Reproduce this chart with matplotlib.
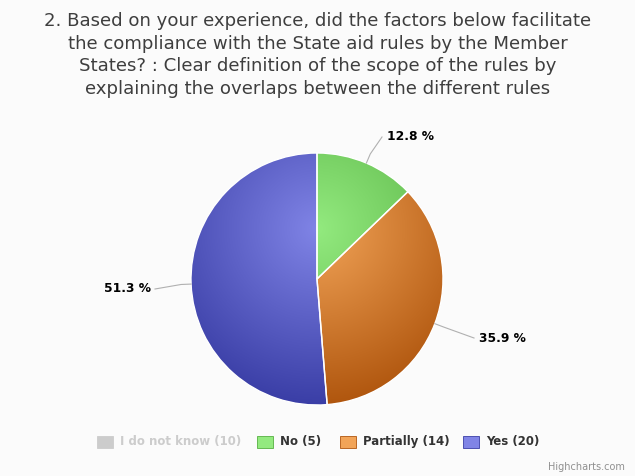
import numpy as np
import matplotlib
matplotlib.use('Agg')
import matplotlib.pyplot as plt
from matplotlib.patches import Rectangle

# data
categories = ['I do not know', 'No', 'Partially', 'Yes']
counts = [10, 5, 14, 20]
visible = [False, True, True, True]
light_colors = ['#cccccc', '#93ea7f', '#f2a458', '#8084e6']
dark_colors = ['#cccccc', '#56b042', '#b0560e', '#3a3ea6']
title = ('2. Based on your experience, did the factors below facilitate\n'
         'the compliance with the State aid rules by the Member\n'
         'States? : Clear definition of the scope of the rules by\n'
         'explaining the overlaps between the different rules')

W, H = 635, 476
fig = plt.figure(figsize=(W / 100, H / 100), dpi=100)
fig.patch.set_facecolor('#fbfbfb')
ax = fig.add_axes([0, 0, 1, 1])

cx, cy, r = 317, H - 279, 126

shown_vals = [c for c, v in zip(counts, visible) if v]
shown_idx = [i for i, v in enumerate(visible) if v]
total = sum(shown_vals)

wedges, _ = ax.pie(shown_vals, center=(cx, cy), radius=r, startangle=90,
                   counterclock=False, frame=True,
                   wedgeprops=dict(linewidth=1, edgecolor='white'))
ax.set_xlim(0, W)
ax.set_ylim(0, H)
ax.set_aspect('equal')
ax.axis('off')

# radial gradient per slice
gx, gy = cx, cy + 0.2 * 2 * r
gr = 0.7 * 2 * r
xx, yy = np.meshgrid(np.linspace(cx - r, cx + r, 300), np.linspace(cy - r, cy + r, 300))
t = np.clip(np.hypot(xx - gx, yy - gy) / gr, 0, 1)
for w, i in zip(wedges, shown_idx):
    c0 = np.array(matplotlib.colors.to_rgb(light_colors[i]))
    c1 = np.array(matplotlib.colors.to_rgb(dark_colors[i]))
    img = c0[None, None, :] * (1 - t[..., None]) + c1[None, None, :] * t[..., None]
    w.set_facecolor('none')
    im = ax.imshow(img, extent=(cx - r, cx + r, cy - r, cy + r), origin='lower',
                   zorder=w.get_zorder() - 0.1, interpolation='bilinear')
    im.set_clip_path(w)

# data labels with connectors
label_pos = {1: (387, H - 137), 2: (479, H - 338), 3: (151, H - 289)}
cum = 0
for w, i, v in zip(wedges, shown_idx, shown_vals):
    mid = 90 - 360 * (cum + v / 2) / total
    cum += v
    a = np.deg2rad(mid)
    ex, ey = cx + r * np.cos(a), cy + r * np.sin(a)
    lx, ly = label_pos[i]
    pct = '%.1f %%' % (100 * v / total)
    if lx > cx:
        tx = lx - 5
        ha = 'left'
    else:
        tx = lx + 4
        ha = 'right'
    bx = ex + 10 * np.cos(a)
    by = ey + 10 * np.sin(a)
    ax.plot([ex, bx, tx], [ey, by, ly], color='#b0b0b0', lw=0.8, zorder=1)
    ax.text(lx, ly, pct, ha=ha, va='center',
            fontsize=8.8, fontweight='bold', color='black')

fig.text(0.5, 1 - 55 / H, title, ha='center', va='center', fontsize=13.1,
         color='#3e3e3e', linespacing=1.33)

# legend
leg_x = [97, 257, 340, 463]
leg_y = H - 442
for i, name in enumerate(categories):
    col = light_colors[i] if visible[i] else '#cccccc'
    edge = dark_colors[i] if visible[i] else '#cccccc'
    ax.add_patch(Rectangle((leg_x[i], leg_y - 6), 16, 12, facecolor=col,
                           edgecolor=edge, lw=0.6))
    ax.text(leg_x[i] + 23, leg_y, '%s (%d)' % (name, counts[i]), ha='left',
            va='center', fontsize=8.5, fontweight='bold',
            color='#333333' if visible[i] else '#cccccc')

ax.text(625, H - 467, 'Highcharts.com', ha='right', va='center', fontsize=7,
        color='#909090')

fig.savefig('out.png', dpi=100, facecolor=fig.get_facecolor())
